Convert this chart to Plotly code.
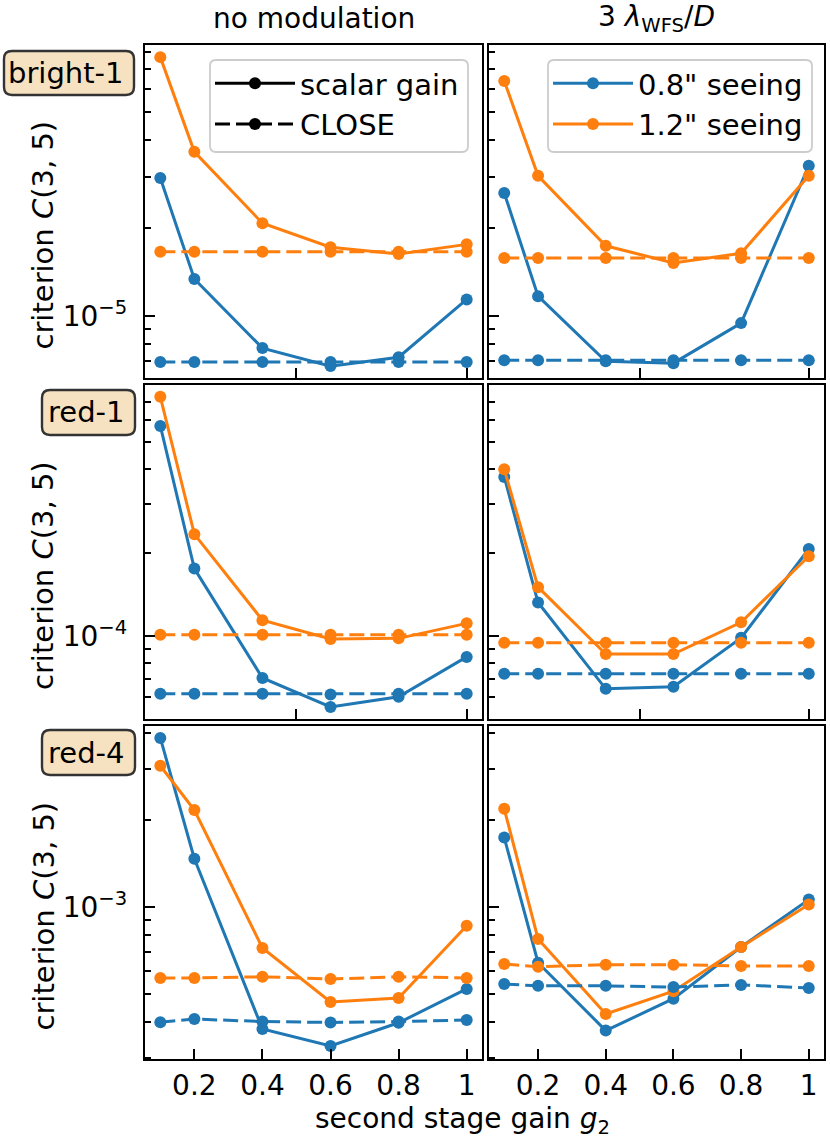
import plotly.graph_objects as go

# ---------------- data ----------------
g2 = [0.1, 0.2, 0.4, 0.6, 0.8, 1.0]
x_tick_vals = [0.2, 0.4, 0.6, 0.8, 1.0]
x_tick_text = ["0.2", "0.4", "0.6", "0.8", "1"]
upper_x_ticks = [0.5, 1.0]

col_titles = ["no modulation", "3 <i>λ</i><sub>WFS</sub>/<i>D</i>"]
row_labels = ["bright-1", "red-1", "red-4"]
row_major_tick = [1e-5, 1e-4, 1e-3]
row_major_text = ["10<sup>−5</sup>", "10<sup>−4</sup>", "10<sup>−3</sup>"]

# bright-1
b1_nomod_scalar_08 = [2.97e-5, 1.34e-5, 7.77e-6, 6.74e-6, 7.23e-6, 1.14e-5]
b1_nomod_scalar_12 = [7.7e-5, 3.65e-5, 2.08e-5, 1.72e-5, 1.63e-5, 1.76e-5]
b1_nomod_close_08 = [6.96e-6, 6.96e-6, 6.96e-6, 6.96e-6, 6.96e-6, 6.96e-6]
b1_nomod_close_12 = [1.66e-5, 1.66e-5, 1.66e-5, 1.66e-5, 1.66e-5, 1.66e-5]
b1_mod_scalar_08 = [2.64e-5, 1.17e-5, 7.0e-6, 6.9e-6, 9.46e-6, 3.27e-5]
b1_mod_scalar_12 = [6.38e-5, 3.02e-5, 1.74e-5, 1.52e-5, 1.64e-5, 3.02e-5]
b1_mod_close_08 = [7.06e-6, 7.06e-6, 7.06e-6, 7.06e-6, 7.06e-6, 7.06e-6]
b1_mod_close_12 = [1.58e-5, 1.58e-5, 1.58e-5, 1.58e-5, 1.58e-5, 1.58e-5]

# red-1
r1_nomod_scalar_08 = [5.73e-4, 1.75e-4, 7.05e-5, 5.54e-5, 6.03e-5, 8.4e-5]
r1_nomod_scalar_12 = [7.3e-4, 2.33e-4, 1.14e-4, 9.75e-5, 9.8e-5, 1.11e-4]
r1_nomod_close_08 = [6.18e-5, 6.18e-5, 6.18e-5, 6.15e-5, 6.18e-5, 6.18e-5]
r1_nomod_close_12 = [1.01e-4, 1.01e-4, 1.01e-4, 1.01e-4, 1.01e-4, 1.01e-4]
r1_mod_scalar_08 = [3.75e-4, 1.32e-4, 6.44e-5, 6.55e-5, 9.84e-5, 2.06e-4]
r1_mod_scalar_12 = [4.0e-4, 1.5e-4, 8.6e-5, 8.6e-5, 1.12e-4, 1.94e-4]
r1_mod_close_08 = [7.3e-5, 7.3e-5, 7.3e-5, 7.3e-5, 7.3e-5, 7.3e-5]
r1_mod_close_12 = [9.44e-5, 9.44e-5, 9.44e-5, 9.44e-5, 9.44e-5, 9.44e-5]

# red-4
r4_nomod_scalar_08 = [3.86e-3, 1.47e-3, 3.77e-4, 3.29e-4, 3.96e-4, 5.19e-4]
r4_nomod_scalar_12 = [3.09e-3, 2.17e-3, 7.2e-4, 4.68e-4, 4.83e-4, 8.6e-4]
r4_nomod_close_08 = [3.98e-4, 4.08e-4, 4.0e-4, 3.97e-4, 4.0e-4, 4.05e-4]
r4_nomod_close_12 = [5.67e-4, 5.67e-4, 5.72e-4, 5.62e-4, 5.72e-4, 5.67e-4]
r4_mod_scalar_08 = [1.74e-3, 6.4e-4, 3.72e-4, 4.8e-4, 7.26e-4, 1.06e-3]
r4_mod_scalar_12 = [2.19e-3, 7.74e-4, 4.25e-4, 5.1e-4, 7.26e-4, 1.02e-3]
r4_mod_close_08 = [5.4e-4, 5.32e-4, 5.32e-4, 5.27e-4, 5.36e-4, 5.23e-4]
r4_mod_close_12 = [6.34e-4, 6.2e-4, 6.3e-4, 6.3e-4, 6.24e-4, 6.24e-4]

panels = [
    [(b1_nomod_scalar_08, b1_nomod_scalar_12, b1_nomod_close_08, b1_nomod_close_12),
     (b1_mod_scalar_08, b1_mod_scalar_12, b1_mod_close_08, b1_mod_close_12)],
    [(r1_nomod_scalar_08, r1_nomod_scalar_12, r1_nomod_close_08, r1_nomod_close_12),
     (r1_mod_scalar_08, r1_mod_scalar_12, r1_mod_close_08, r1_mod_close_12)],
    [(r4_nomod_scalar_08, r4_nomod_scalar_12, r4_nomod_close_08, r4_nomod_close_12),
     (r4_mod_scalar_08, r4_mod_scalar_12, r4_mod_close_08, r4_mod_close_12)],
]

# ---------------- style / layout ----------------
W, H = 830, 1142
BLUE = "#1f77b4"
ORANGE = "#ff7f0e"
FONT = "DejaVu Sans"
LW = 3.0
MS = 12
DASH = "15px,6px"
FS = 28

col_px = [(145, 482), (489, 824)]
row_px = [(45, 378), (385, 719), (726, 1059)]
row_ranges = [(-5.212, -4.072), (-4.300, -3.094), (-3.528, -2.372)]
x_range = [0.055, 1.045]

minor_vals = [k * 10.0 ** e for e in range(-7, -1) for k in range(2, 10)]

def px2x(p):
    return p / W

def px2y(p):
    return 1 - p / H

def round_rect(bx0, bx1, by0, by1, rad):
    x0, x1 = px2x(bx0), px2x(bx1)
    y0, y1 = px2y(by1), px2y(by0)
    rx, ry = rad / W, rad / H
    return (f"M {x0+rx},{y0} L {x1-rx},{y0} Q {x1},{y0} {x1},{y0+ry} "
            f"L {x1},{y1-ry} Q {x1},{y1} {x1-rx},{y1} L {x0+rx},{y1} "
            f"Q {x0},{y1} {x0},{y1-ry} L {x0},{y0+ry} Q {x0},{y0} {x0+rx},{y0} Z")

fig = go.Figure()
layout = dict(
    width=W, height=H, autosize=False,
    margin=dict(l=0, r=0, t=0, b=0),
    paper_bgcolor="white", plot_bgcolor="white",
    font=dict(family=FONT, size=FS, color="black"),
    showlegend=True,
)

for r in range(3):
    for c in range(2):
        n = r * 2 + c + 1
        xa = "x" if n == 1 else f"x{n}"
        ya = "y" if n == 1 else f"y{n}"
        s08, s12, c08, c12 = panels[r][c]
        for yv, col, dash in [(s08, BLUE, "solid"), (s12, ORANGE, "solid"),
                              (c08, BLUE, DASH), (c12, ORANGE, DASH)]:
            fig.add_trace(go.Scatter(
                x=g2, y=yv, mode="lines+markers", xaxis=xa, yaxis=ya,
                line=dict(color=col, width=LW, dash=dash),
                marker=dict(color=col, size=MS), showlegend=False,
                hoverinfo="skip"))
        bottom = (r == 2)
        layout[f"xaxis{'' if n == 1 else n}"] = dict(
            domain=[px2x(col_px[c][0]), px2x(col_px[c][1])],
            anchor=ya, range=x_range,
            showline=True, linecolor="black", linewidth=2.4, mirror=True,
            ticks="inside", ticklen=10, tickwidth=2, tickcolor="black",
            tickmode="array",
            tickvals=x_tick_vals if bottom else upper_x_ticks,
            ticktext=x_tick_text if bottom else ["", ""],
            showticklabels=bottom, showgrid=False, zeroline=False,
            ticklabelstandoff=0,
            tickfont=dict(family=FONT, size=FS, color="black"),
        )
        layout[f"yaxis{'' if n == 1 else n}"] = dict(
            domain=[px2y(row_px[r][1]), px2y(row_px[r][0])],
            anchor=xa, type="log", range=list(row_ranges[r]),
            showline=True, linecolor="black", linewidth=2.4, mirror=True,
            ticks="inside", ticklen=10, tickwidth=2, tickcolor="black",
            tickmode="array", tickvals=[row_major_tick[r]], ticktext=[row_major_text[r]],
            showticklabels=(c == 0), showgrid=False, zeroline=False,
            ticklabelstandoff=10,
            tickfont=dict(family=FONT, size=FS, color="black"),
            minor=dict(tickmode="array", tickvals=minor_vals, ticks="inside",
                       ticklen=6, tickwidth=1.6, tickcolor="black", showgrid=False),
        )

# legend entries
fig.add_trace(go.Scatter(x=[None], y=[None], mode="lines+markers", name="scalar gain",
                         line=dict(color="black", width=LW), marker=dict(color="black", size=MS),
                         legend="legend"))
fig.add_trace(go.Scatter(x=[None], y=[None], mode="lines+markers", name="CLOSE",
                         line=dict(color="black", width=LW, dash=DASH),
                         marker=dict(color="black", size=MS), legend="legend"))
fig.add_trace(go.Scatter(x=[None], y=[None], mode="lines+markers", name='0.8" seeing',
                         line=dict(color=BLUE, width=LW), marker=dict(color=BLUE, size=MS),
                         legend="legend2"))
fig.add_trace(go.Scatter(x=[None], y=[None], mode="lines+markers", name='1.2" seeing',
                         line=dict(color=ORANGE, width=LW), marker=dict(color=ORANGE, size=MS),
                         legend="legend2"))

leg_common = dict(xanchor="left", yanchor="top", bgcolor="rgba(0,0,0,0)",
                  bordercolor="rgba(0,0,0,0)", borderwidth=0,
                  font=dict(family=FONT, size=29, color="black"),
                  itemwidth=80, tracegroupgap=0)
layout["legend"] = dict(x=px2x(210), y=px2y(58), **leg_common)
layout["legend2"] = dict(x=px2x(548), y=px2y(58), **leg_common)

annotations = []
shapes = []
# legend frames (rounded, like the reference)
for lx0, lx1 in [(210, 468), (548, 812)]:
    shapes.append(dict(type="path", path=round_rect(lx0, lx1, 60, 152, 6),
                       xref="paper", yref="paper",
                       fillcolor="rgba(255,255,255,0.8)",
                       line=dict(color="#cccccc", width=1.8), layer="above"))

# column titles
for c, t in enumerate(col_titles):
    annotations.append(dict(text=t, x=px2x((col_px[c][0] + col_px[c][1]) / 2), y=px2y(19),
                            xref="paper", yref="paper", showarrow=False,
                            xanchor="center", yanchor="middle",
                            font=dict(family=FONT, size=FS, color="black")))
# y labels
for r in range(3):
    cy = (row_px[r][0] + row_px[r][1]) / 2 + 24
    annotations.append(dict(text="criterion <i>C</i>(3, 5)", x=px2x(43), y=px2y(cy),
                            xref="paper", yref="paper", showarrow=False, textangle=-90,
                            xanchor="center", yanchor="middle",
                            font=dict(family=FONT, size=29, color="black")))
# x label
annotations.append(dict(text="second stage gain <i>g</i><sub>2</sub>", x=px2x(313), y=px2y(1120),
                        xref="paper", yref="paper", showarrow=False,
                        xanchor="left", yanchor="middle",
                        font=dict(family=FONT, size=FS, color="black")))

# row label boxes
box_px = [(4, 134, 51, 95), (42, 135, 390, 435), (42, 135, 730, 775)]
for r, (bx0, bx1, by0, by1) in enumerate(box_px):
    shapes.append(dict(type="path", path=round_rect(bx0, bx1, by0, by1, 8),
                       xref="paper", yref="paper",
                       fillcolor="#f6e2c0", line=dict(color="#333333", width=2.4),
                       layer="above"))
    annotations.append(dict(text=row_labels[r], x=px2x(bx1 - 9), y=px2y((by0 + by1) / 2),
                            xref="paper", yref="paper", showarrow=False,
                            xanchor="right", yanchor="middle",
                            font=dict(family=FONT, size=29, color="black")))

layout["annotations"] = annotations
layout["shapes"] = shapes
fig.update_layout(**layout)
fig.write_html("out.html", config={"displayModeBar": False},
               post_script="document.body.style.margin='0px'; document.body.style.overflow='hidden';")
